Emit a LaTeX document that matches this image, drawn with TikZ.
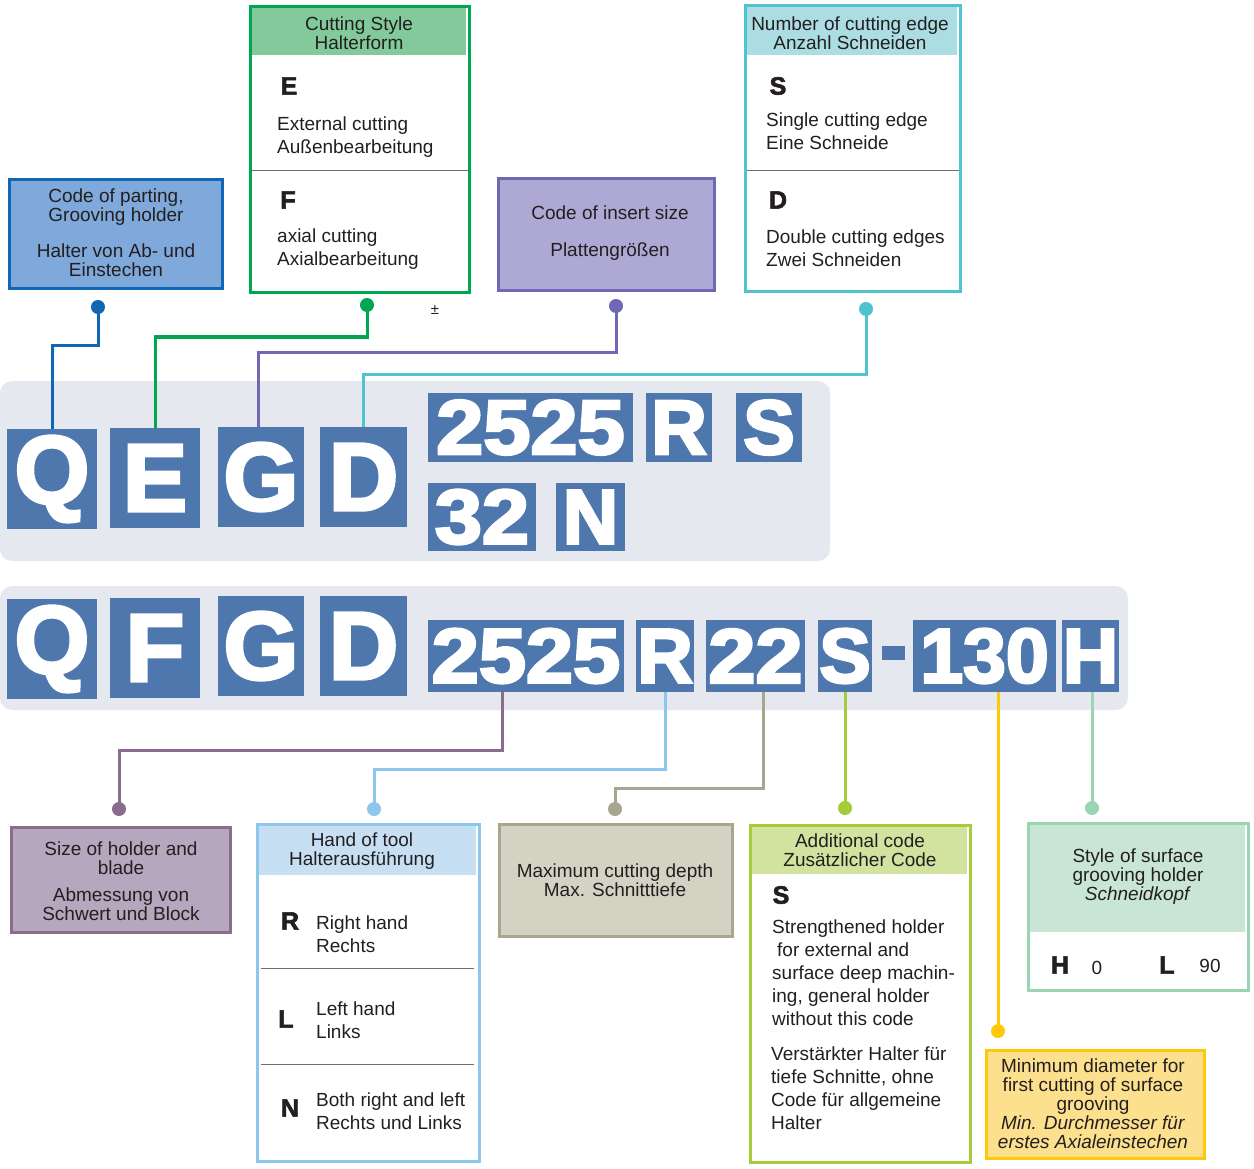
\documentclass[tikz,border=0pt]{standalone}
\usepackage{fontspec}
\setmainfont{Liberation Sans}
\newfontfamily\heavy[FakeBold=2.5]{Liberation Sans Bold}
\newfontfamily\heavier[FakeBold=3.5]{Liberation Sans Bold}
\usetikzlibrary{calc}
\definecolor{txt}{HTML}{231F20}
\definecolor{band}{HTML}{E5E8EE}
\definecolor{lblue}{HTML}{4E77AE}
\definecolor{aline}{HTML}{1068B4}\definecolor{afill}{HTML}{7FA8DB}
\definecolor{bline}{HTML}{00A651}\definecolor{bhdr}{HTML}{82CA9C}
\definecolor{cline}{HTML}{7068B5}\definecolor{cfill}{HTML}{ADA9D4}
\definecolor{dline}{HTML}{4FC3CE}\definecolor{dhdr}{HTML}{ABDDE3}
\definecolor{eline}{HTML}{8A6D8E}\definecolor{efill}{HTML}{B7A7BE}
\definecolor{fline}{HTML}{8EC7EC}\definecolor{fhdr}{HTML}{C7DFF3}
\definecolor{gline}{HTML}{A9A68F}\definecolor{gfill}{HTML}{D4D2C3}
\definecolor{hline}{HTML}{A5CD39}\definecolor{hhdr}{HTML}{D1E39E}
\definecolor{iline}{HTML}{9AD4B0}\definecolor{ihdr}{HTML}{C9E6D4}
\definecolor{jline}{HTML}{FFC90A}\definecolor{jfill}{HTML}{FDE08E}
\definecolor{divgray}{HTML}{6D6E70}
\newcommand{\digw}[1]{\scalebox{1.1}[1]{#1}}
\tikzset{
  box/.style={rectangle, inner sep=0pt, line width=3pt},
  lbl/.style={inner sep=0pt, align=center, text=txt, font=\fontsize{19}{19}\selectfont},
  body/.style={inner sep=0pt, align=left, text=txt, font=\fontsize{19}{23}\selectfont, anchor=west},
  codel/.style={inner sep=0pt, text=txt, font=\heavy\fontsize{25}{25}\selectfont},
  lt/.style={rectangle, fill=lblue, inner sep=0pt, text=white},
  bigl/.style={lt, font=\heavier\fontsize{96}{96}\selectfont},
  bigd/.style={lt, font=\heavier\fontsize{77}{77}\selectfont},
  dotn/.style={circle, inner sep=0pt, minimum size=13pt},
  conn/.style={line width=3pt},
  divl/.style={line width=1pt, draw=divgray}
}
\begin{document}
\begin{tikzpicture}[x=1pt,y=-1pt]
\useasboundingbox (0,0) rectangle (1254,1169);
% bands
\fill[band, rounded corners=12pt] (0,381) rectangle (830,561);
\fill[band, rounded corners=12pt] (0,586) rectangle (1128,710);
% dots
\node[dotn, fill=aline] (dA) at (98,307) {};
\node[dotn, fill=bline] (dB) at (367,305) {};
\node[dotn, fill=cline] (dC) at (616,306) {};
\node[dotn, fill=dline] (dD) at (866,309) {};
\node[dotn, fill=eline] (dE) at (119,809) {};
\node[dotn, fill=fline] (dF) at (374,809) {};
\node[dotn, fill=gline] (dG) at (615,809) {};
\node[dotn, fill=hline] (dH) at (845,808) {};
\node[dotn, fill=jline] (dI) at (998,1031) {};
\node[dotn, fill=iline] (dJ) at (1092,808) {};
% row 1 letters
\node[bigl, minimum width=90, minimum height=100] (Q1) at (52,479) {Q};
\node[bigl, minimum width=90, minimum height=100] (E1) at (155,478) {E};
\node[bigl, minimum width=86, minimum height=100] (G1) at (261,477) {G};
\node[bigl, minimum width=87, minimum height=100] (D1) at (363.5,477) {D};
\node[bigd, minimum width=205, minimum height=69] (A25) at (530.5,427.5) {\digw{2525}};
\node[bigd, minimum width=66, minimum height=69] (R1) at (679,427.5) {R};
\node[bigd, minimum width=66, minimum height=69] (S1) at (769,427.5) {S};
\node[bigd, minimum width=108, minimum height=68] (A32) at (482,517) {\digw{32}};
\node[bigd, minimum width=69, minimum height=68] (N1) at (590.5,517) {N};
% row 2 letters
\node[bigl, minimum width=90, minimum height=100] (Q2) at (52,649) {Q};
\node[bigl, minimum width=90, minimum height=100] (F2) at (155,648) {F};
\node[bigl, minimum width=86, minimum height=100] (G2) at (261,646) {G};
\node[bigl, minimum width=87, minimum height=100] (D2) at (363.5,646) {D};
\node[bigd, minimum width=196, minimum height=72] (B25) at (526,656) {\digw{2525}};
\node[bigd, minimum width=58, minimum height=72] (R2) at (665,656) {R};
\node[bigd, minimum width=99, minimum height=72] (B22) at (755.5,656) {\digw{22}};
\node[bigd, minimum width=54, minimum height=72] (S2) at (845,656) {S};
\node[lt, minimum width=23, minimum height=14] (dash) at (893.5,653) {};
\node[bigd, minimum width=143, minimum height=72] (B130) at (984.5,656) {130};
\node[bigd, minimum width=57, minimum height=72] (H2) at (1090.5,656) {H};
% connectors top
\draw[conn, aline] (dA.center) -- ++(0,38) -| (Q1.north);
\draw[conn, bline] (dB.center) -- ++(0,32) -| (E1.north);
\draw[conn, cline] (dC.center) -- ++(0,46) -| ([xshift=-3pt]G1.north);
\draw[conn, dline] (dD.center) -- ++(0,65) -| (D1.north);
% connectors bottom
\draw[conn, eline] ([xshift=-24pt]B25.south) -- ++(0,58) -| (dE.center);
\draw[conn, fline] (R2.south) -- ++(0,77) -| (dF.center);
\draw[conn, gline] ([xshift=7.5pt]B22.south) -- ++(0,96) -| (dG.center);
\draw[conn, hline] (S2.south) -- (dH.center);
\draw[conn, jline] (B130.south -| dI) -- (dI.center);
\draw[conn, iline] (H2.south -| dJ) -- (dJ.center);
% redraw dots on top
\foreach \d/\c in {dA/aline,dB/bline,dC/cline,dD/dline,dE/eline,dF/fline,dG/gline,dH/hline,dI/jline,dJ/iline}
  \fill[\c] (\d) circle (7pt);
% box A
\node[box, draw=aline, fill=afill, minimum width=213, minimum height=109] (bA) at (116,234) {};
\node[lbl] (tA) at (116,233) {Code of parting,\\Grooving holder\\[17pt]Halter von Ab- und\\Einstechen};
% box B
\node[box, fill=white, minimum width=216, minimum height=283] (bB) at (359.5,150) {};
\fill[bhdr] (bB.north west) rectangle ++(216,48.5);
\draw[line width=3pt, bline] (bB.north west) rectangle (bB.south east);
\node[lbl] (hB) at (359,33.5) {Cutting Style\\Halterform};
\node[codel] (cE) at (289,86) {E};
\node[body] (tE) at (277,137) {External cutting\\Außenbearbeitung};
\draw[divl] (251.5,171) -- (467.5,171);
\node[codel] (cF) at (288,200) {F};
\node[body] (tF) at (277,249) {axial cutting\\Axialbearbeitung};
\node[text=txt, font=\fontsize{15}{15}\selectfont, inner sep=0pt] (pm) at (435,310) {±};
% box C
\node[box, draw=cline, fill=cfill, minimum width=216, minimum height=112] (bC) at (606.5,234.5) {};
\node[lbl] (tC) at (610,233) {Code of insert size\\[18pt]Plattengrößen};
% box D
\node[box, fill=white, minimum width=212, minimum height=283] (bD) at (852.5,149) {};
\fill[dhdr] (bD.north west) rectangle ++(212,49.5);
\draw[line width=3pt, dline] (bD.north west) rectangle (bD.south east);
\node[lbl] (hD) at (850,33.5) {Number of cutting edge\\Anzahl Schneiden};
\node[codel] (cS) at (778,86) {S};
\node[body] (tS) at (766,131.5) {Single cutting edge\\Eine Schneide};
\draw[divl] (746.5,171) -- (958.5,171);
\node[codel] (cD) at (778,200) {D};
\node[body] (tDd) at (766,248.5) {Double cutting edges\\Zwei Schneiden};
% box E
\node[box, draw=eline, fill=efill, minimum width=219, minimum height=105] (bE) at (121,880) {};
\node[lbl] (tEb) at (121,881.5) {Size of holder and\\blade\\[8pt]Abmessung von\\Schwert und Block};
% box F
\node[box, fill=white, minimum width=219, minimum height=334] (bF) at (368,992.5) {};
\fill[fhdr] (bF.north west) rectangle ++(219,50.5);
\draw[line width=3pt, fline] (bF.north west) rectangle (bF.south east);
\node[lbl] (hF) at (362,851.5) {Hand of tool\\Halterausführung};
\node[codel] (cR) at (290,921) {R};
\node[body] (tR) at (316,934.5) {Right hand\\Rechts};
\draw[divl] (261,968) -- (474,968);
\node[codel] (cL) at (286,1019) {L};
\node[body] (tL) at (316,1020.5) {Left hand\\Links};
\draw[divl] (261,1064) -- (474,1064);
\node[codel] (cN) at (290,1108) {N};
\node[body] (tN) at (316,1111.5) {Both right and left\\Rechts und Links};
% box G
\node[box, draw=gline, fill=gfill, minimum width=233, minimum height=112] (bG) at (616,880.5) {};
\node[lbl] (tG) at (615,880.5) {Maximum cutting depth\\Max. Schnitttiefe};
% box H
\node[box, fill=white, minimum width=217, minimum height=334] (bH) at (860,993.5) {};
\fill[hhdr] (bH.north west) rectangle ++(217,48.5);
\draw[line width=3pt, hline] (bH.north west) rectangle (bH.south east);
\node[lbl] (hH) at (860,850.5) {Additional code\\Zusätzlicher Code};
\node[codel] (cSs) at (781,895) {S};
\node[body] (tH1) at (772,973) {Strengthened holder\\\hspace*{5pt}for external and\\surface deep machin-\\ing, general holder\\without this code};
\node[body] (tH2) at (771,1088.5) {Verstärkter Halter für\\tiefe Schnitte, ohne\\Code für allgemeine\\Halter};
% box I
\node[box, fill=white, minimum width=217, minimum height=164] (bI) at (1138,906.5) {};
\fill[ihdr] (bI.north west) rectangle ++(217,108.5);
\draw[line width=3pt, iline] (bI.north west) rectangle (bI.south east);
\node[lbl] (hI) at (1138,877) {Style of surface\\grooving holder\\\textit{Schneidkopf}};
\node[codel] (cH) at (1060,965) {H};
\node[lbl] (t0) at (1097,968) {0};
\node[codel] (cLl) at (1167,965) {L};
\node[lbl] (t90) at (1210,966) {90};
% box J
\node[box, draw=jline, fill=jfill, minimum width=218, minimum height=108] (bJ) at (1095.5,1104.5) {};
\node[lbl] (tJ) at (1093,1104) {Minimum diameter for\\first cutting of surface\\grooving\\\textit{Min. Durchmesser für}\\\textit{erstes Axialeinstechen}};
\end{tikzpicture}
\end{document}
